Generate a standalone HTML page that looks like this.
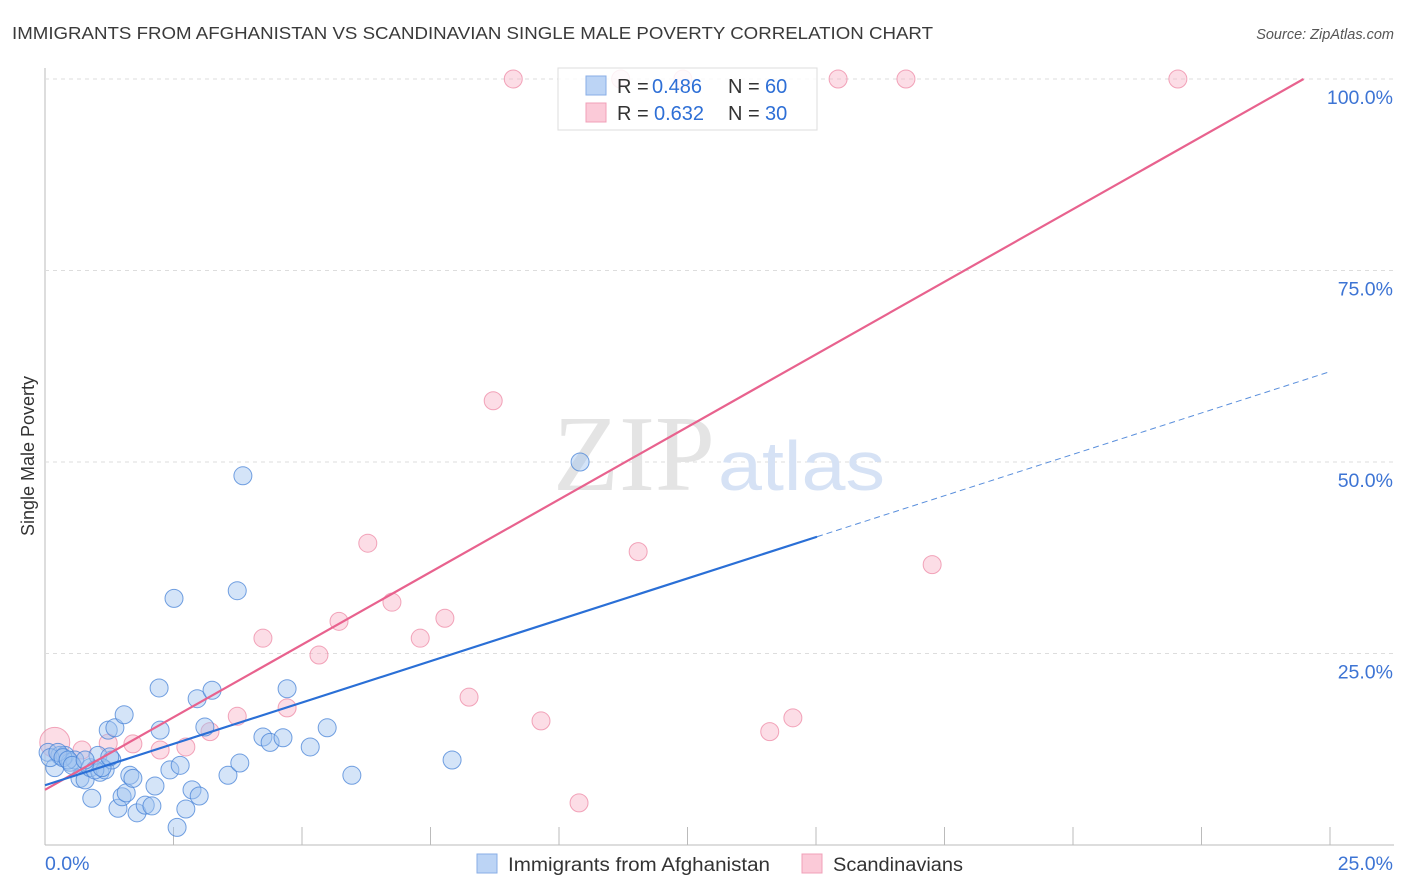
<!DOCTYPE html>
<html><head><meta charset="utf-8">
<style>
body{margin:0;background:#fff;font-family:"Liberation Sans",sans-serif;}
#wrap{position:relative;width:1406px;height:892px;overflow:hidden;}
</style></head>
<body>
<div id="wrap">
<svg id="svg" width="1406" height="892" xmlns="http://www.w3.org/2000/svg">
<text x="12" y="39" font-size="17.5" fill="#3a3a3a" textLength="921" lengthAdjust="spacingAndGlyphs">IMMIGRANTS FROM AFGHANISTAN VS SCANDINAVIAN SINGLE MALE POVERTY CORRELATION CHART</text>
<text x="1394" y="39" font-size="14.5" fill="#555" font-style="italic" text-anchor="end">Source: ZipAtlas.com</text>
<text transform="translate(34,456) rotate(-90)" font-size="18" fill="#333" text-anchor="middle">Single Male Poverty</text>
<g id="grid"></g>
<text x="553" y="490" font-size="108" fill="#e4e4e4" font-family="Liberation Serif,serif" textLength="162" lengthAdjust="spacingAndGlyphs">ZIP</text>
<text x="718" y="490" font-size="70" fill="#d6e2f5" textLength="167" lengthAdjust="spacingAndGlyphs">atlas</text>
<g id="pts"></g>
<g id="lines"></g>
<g>
<rect x="558" y="68" width="259" height="62" fill="rgba(255,255,255,0.85)" stroke="#ddd"/>
<rect x="586" y="76" width="20" height="19" fill="#bcd4f5" stroke="#88aee6"/>
<rect x="586" y="103" width="20" height="19" fill="#fbcad8" stroke="#f0a0b8"/>
<text y="93" font-size="20" fill="#333"><tspan x="617">R =</tspan><tspan x="652" fill="#2e6fd6">0.486</tspan><tspan x="728">N =</tspan><tspan x="765" fill="#2e6fd6">60</tspan></text>
<text y="120" font-size="20" fill="#333"><tspan x="617">R =</tspan><tspan x="654" fill="#2e6fd6">0.632</tspan><tspan x="728">N =</tspan><tspan x="765" fill="#2e6fd6">30</tspan></text>
</g>
<rect x="477" y="854" width="20" height="19" fill="#bcd4f5" stroke="#88aee6"/>
<text x="508" y="871" font-size="19" fill="#333" textLength="262" lengthAdjust="spacingAndGlyphs">Immigrants from Afghanistan</text>
<rect x="802" y="854" width="20" height="19" fill="#fbcad8" stroke="#f0a0b8"/>
<text x="833" y="871" font-size="19" fill="#333" textLength="130" lengthAdjust="spacingAndGlyphs">Scandinavians</text>
</svg>
</div>
<script>
const xTicks=[0,2.5,5,7.5,10,12.5,15,17.5,20,22.5,25];
const yTicks=[25,50,75,100];
const yTickLabels=["25.0%","50.0%","75.0%","100.0%"];
const xEndLabels=["0.0%","25.0%"];
const blueX=[0.06,0.19,0.29,0.39,0.49,0.58,0.68,0.78,0.88,0.91,1.03,1.07,1.17,1.23,1.30,1.36,1.42,1.50,1.54,1.58,1.65,1.71,1.79,1.95,2.08,2.14,2.22,2.24,2.43,2.51,2.57,2.63,2.74,2.86,2.96,3.00,3.11,3.25,3.56,3.79,3.85,3.74,4.24,4.38,4.63,4.71,5.16,5.49,5.97,7.92,10.41,0.10,0.25,0.35,0.45,0.53,0.97,1.11,1.26,0.78];
const blueY=[12.1,10.1,11.7,11.7,10.8,11.1,8.7,8.5,10.1,6.1,11.7,9.5,9.8,15.0,11.1,15.3,4.8,6.3,17.0,6.8,9.1,8.7,4.2,5.2,5.1,7.7,20.5,15.0,9.8,32.2,2.3,10.4,4.7,7.2,19.1,6.4,15.4,20.2,9.1,10.7,48.2,33.2,14.1,13.4,14.0,20.4,12.8,15.3,9.1,11.1,50.0,11.4,12.1,11.4,11.1,10.4,9.8,10.1,11.5,11.1];
const pinkX=[0.19,0.72,1.23,1.71,2.24,2.74,3.21,3.74,4.24,4.71,5.33,5.72,6.28,6.75,7.30,7.78,8.25,8.72,9.11,9.65,10.39,11.54,14.10,14.55,15.43,16.75,17.26,22.04,12.41,11.20];
const pinkY=[13.4,12.4,13.3,13.2,12.4,12.8,14.8,16.8,27.0,17.9,24.8,29.2,39.4,31.7,27.0,29.6,19.3,58.0,100,16.2,5.5,38.3,14.8,16.6,100,100,36.6,100,100,100];
const pinkR=[15,9,9,9,9,9,9,9,9,9,9,9,9,9,9,9,9,9,9,9,9,9,9,9,9,9,9,9,9,9];
const blueLine=[7.8,2.16,15.02];
const pinkLine=[7.2,3.79];
const NS="http://www.w3.org/2000/svg";
const X=v=>45+v/25*1285, Y=v=>845-v*7.66;
function mk(t,a,p){const e=document.createElementNS(NS,t);for(const k in a)e.setAttribute(k,a[k]);p.appendChild(e);return e;}
const g=document.getElementById('grid'),svg=document.getElementById('svg');
let ax=mk('line',{x1:45,y1:68,x2:45,y2:845,stroke:'#bbb'},g);


let bx=mk('line',{x1:45,y1:845,x2:1394,y2:845,stroke:'#bbb'},g);


yTicks.forEach((t,i)=>{
 let l=mk('line',{x1:45,y1:Y(t),x2:1394,y2:Y(t),stroke:'#ddd','stroke-dasharray':'4,4'},g);
 
 
 let tx=mk('text',{x:1393,y:Y(t)+25,'font-size':19.5,fill:'#3d74d4','text-anchor':'end'},g);tx.textContent=yTickLabels[i];
 
 
});
xTicks.forEach((t,i)=>{if(i==0)return;
 let l=mk('line',{x1:X(t),y1:827,x2:X(t),y2:845,stroke:'#bbb'},g);
 
 
});
let xl0=mk('text',{x:45,y:870,'font-size':19.5,fill:'#3d74d4'},g);xl0.textContent=xEndLabels[0];


let xl1=mk('text',{x:1393,y:870,'font-size':19.5,fill:'#3d74d4','text-anchor':'end'},g);xl1.textContent=xEndLabels[1];


const pg=document.getElementById('pts');
pinkX.forEach((x,i)=>{let c=mk('circle',{cx:X(x),cy:Y(pinkY[i]),r:pinkR[i],fill:'rgba(248,180,200,0.45)',stroke:'rgba(236,130,160,0.7)','stroke-width':1},pg);
 
 });
blueX.forEach((x,i)=>{let c=mk('circle',{cx:X(x),cy:Y(blueY[i]),r:9,fill:'rgba(160,195,240,0.45)',stroke:'rgba(70,130,215,0.75)','stroke-width':1},pg);
 
 });
const lg=document.getElementById('lines');
let pl=mk('line',{x1:X(0),y1:Y(pinkLine[0]),x2:X((100-pinkLine[0])/pinkLine[1]),y2:Y(100),stroke:'#e8628e','stroke-width':2.2},lg);


let bl=mk('line',{x1:X(0),y1:Y(blueLine[0]),x2:X(blueLine[2]),y2:Y(blueLine[0]+blueLine[1]*blueLine[2]),stroke:'#2a6fd6','stroke-width':2.2},lg);


let bd=mk('line',{x1:X(blueLine[2]),y1:Y(blueLine[0]+blueLine[1]*blueLine[2]),x2:X(25),y2:Y(blueLine[0]+blueLine[1]*25),stroke:'#5a8fdc','stroke-width':1,'stroke-dasharray':'6,4'},lg);


</script>
</body></html>
